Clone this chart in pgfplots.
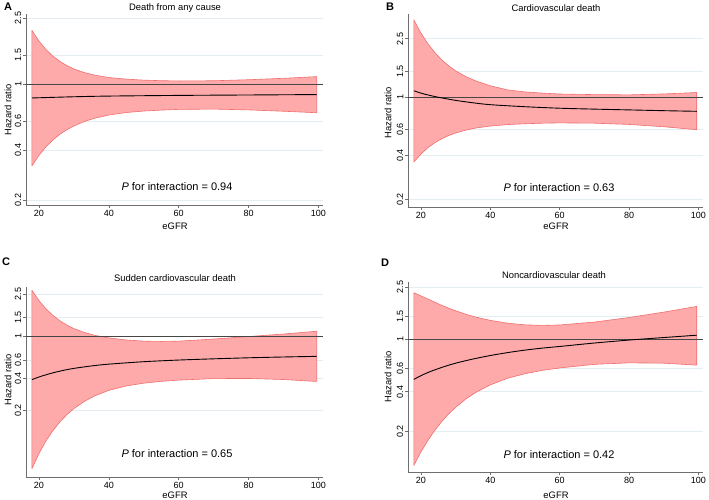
\documentclass[border=0pt]{standalone}
\usepackage{pgfplots}
\usepackage{pgfplotstable}
\pgfplotsset{compat=1.18}
\usepackage{fontspec}
\setmainfont{Liberation Sans}

\definecolor{bandfill}{RGB}{255,170,170}
\definecolor{bandedge}{RGB}{240,110,110}
\definecolor{axgray}{RGB}{110,110,110}
\definecolor{gridc}{RGB}{228,238,242}
\definecolor{refc}{RGB}{70,70,70}

% band polygons: upper limit for rising eGFR, then lower limit back down
\pgfplotstableread{
x y
18 2.111
20 1.820
22 1.619
24 1.476
26 1.372
28 1.294
30 1.236
33 1.175
36 1.133
40 1.097
45 1.073
50 1.058
55 1.050
60 1.046
70 1.049
80 1.064
90 1.085
99.5 1.111
99.5 0.673
90 0.687
80 0.700
70 0.708
60 0.705
55 0.698
50 0.689
45 0.675
40 0.652
36 0.624
33 0.596
30 0.560
28 0.532
26 0.499
24 0.461
22 0.419
20 0.372
18 0.322
}\bandA
\pgfplotstableread{
x hr
18 0.826
30 0.840
40 0.848
60 0.856
80 0.861
99.5 0.866
}\lineA

\pgfplotstableread{
x y
18 3.360
20 2.743
22 2.318
24 2.018
26 1.799
28 1.636
30 1.513
33 1.379
36 1.285
40 1.195
45 1.120
50 1.085
55 1.065
60 1.050
70 1.040
80 1.036
90 1.051
99.5 1.075
99.5 0.599
90 0.628
80 0.651
70 0.664
60 0.667
55 0.664
50 0.658
45 0.650
40 0.635
36 0.616
33 0.596
30 0.569
28 0.547
26 0.520
24 0.488
22 0.451
20 0.408
18 0.361
}\bandB
\pgfplotstableread{
x hr
18 1.104
20 1.065
22 1.035
25 0.998
30 0.950
35 0.915
40 0.888
50 0.860
60 0.840
70 0.828
80 0.818
90 0.808
99.5 0.800
}\lineB

\pgfplotstableread{
x y
18 2.718
20 2.177
22 1.818
24 1.575
26 1.402
28 1.276
30 1.184
33 1.087
36 1.021
40 0.966
45 0.923
50 0.900
55 0.894
60 0.900
70 0.942
80 0.995
90 1.051
99.5 1.116
99.5 0.375
90 0.391
80 0.400
70 0.399
60 0.386
55 0.376
50 0.361
45 0.340
40 0.309
36 0.2745
33 0.243
30 0.208
28 0.1823
26 0.1557
24 0.1287
22 0.1027
20 0.0782
18 0.0564
}\bandC
\pgfplotstableread{
x hr
18 0.390
20 0.413
22 0.433
24 0.452
27 0.477
30 0.498
35 0.525
40 0.546
50 0.576
60 0.597
70 0.613
80 0.627
90 0.638
99.5 0.647
}\lineC

\pgfplotstableread{
x y
18 2.270
20 2.149
22 2.034
24 1.925
26 1.822
28 1.733
30 1.657
33 1.553
36 1.477
40 1.398
45 1.330
50 1.293
55 1.281
60 1.290
70 1.357
80 1.470
90 1.616
99.5 1.786
99.5 0.638
90 0.660
80 0.664
70 0.647
60 0.607
55 0.582
50 0.549
45 0.507
40 0.451
36 0.398
33 0.353
30 0.304
28 0.271
26 0.237
24 0.203
22 0.170
20 0.139
18 0.110
}\bandD
\pgfplotstableread{
x hr
18 0.497
20 0.530
22 0.560
24 0.587
27 0.625
30 0.660
35 0.710
40 0.755
45 0.795
50 0.830
55 0.860
60 0.885
70 0.940
80 0.990
90 1.035
99.5 1.078
}\lineD

\pgfplotsset{
  mypanel/.style={
    scale only axis, anchor=south west,
    xmin=16.3, xmax=101.3,
    axis lines*=left,
    axis line style={draw=axgray, line width=0.7pt},
    tick align=outside, major tick length=3pt,
    tick style={draw=axgray, line width=0.6pt},
    xtick={20,40,60,80,100}, xticklabels={20,40,60,80,100},
    ytick={0.2,0.4,0.6,1,1.5,2.5}, yticklabels={0.2,0.4,0.6,1,1.5,2.5},
    yminorticks=false, xminorticks=false,
    ymajorgrids, grid style={draw=gridc, line width=0.6pt},
    yticklabel style={rotate=90, anchor=south, font=\fontsize{9}{10}\selectfont, inner sep=1.5pt},
    xticklabel style={font=\fontsize{9}{10}\selectfont, inner sep=2pt},
  },
}
\tikzset{
  mband/.style={fill=bandfill, draw=bandedge, line width=0.6pt, line join=round},
  mhr/.style={black, line width=0.9pt, smooth},
  mref/.style={draw=refc, line width=0.7pt},
}

\begin{document}
\begin{tikzpicture}
\path[use as bounding box] (0pt,0pt) rectangle (709pt,500pt);

% ---------------- A ----------------
\begin{axis}[ymode=log, mypanel, at={(26pt,295pt)}, width=297pt, height=191pt, ymin=0.187, ymax=2.65]
\addplot[mband] table[x=x, y=y] {\bandA} -- cycle;
\addplot[mref] coordinates {(16.3,1) (101.3,1)};
\addplot[mhr] table[x=x, y=hr] {\lineA};
\end{axis}

% ---------------- B ----------------
\begin{axis}[ymode=log, mypanel, at={(408pt,293pt)}, width=295pt, height=193pt, ymin=0.178, ymax=3.69]
\addplot[mband] table[x=x, y=y] {\bandB} -- cycle;
\addplot[mref] coordinates {(16.3,1) (101.3,1)};
\addplot[mhr] table[x=x, y=hr] {\lineB};
\end{axis}

% ---------------- C ----------------
\begin{axis}[ymode=log, mypanel, at={(26pt,23pt)}, width=297pt, height=190pt, ymin=0.047, ymax=2.92]
\addplot[mband] table[x=x, y=y] {\bandC} -- cycle;
\addplot[mref] coordinates {(16.3,1) (101.3,1)};
\addplot[mhr] table[x=x, y=hr] {\lineC};
\end{axis}

% ---------------- D ----------------
\begin{axis}[ymode=log, mypanel, at={(408pt,28pt)}, width=295pt, height=190pt, ymin=0.098, ymax=2.74]
\addplot[mband] table[x=x, y=y] {\bandD} -- cycle;
\addplot[mref] coordinates {(16.3,1) (101.3,1)};
\addplot[mhr] table[x=x, y=hr] {\lineD};
\end{axis}

% ---------------- texts ----------------
\tikzset{lbl/.style={font=\fontsize{9.4}{11}\selectfont, inner sep=0pt},
         ptxt/.style={font=\fontsize{11}{13}\selectfont, inner sep=0pt},
         letter/.style={font=\fontsize{11}{13}\selectfont\bfseries, inner sep=0pt}}

\node[letter] at (8pt,493pt) {A};
\node[lbl] at (175pt,492pt) {Death from any cause};
\node[ptxt] at (177pt,313pt) {\textit{P} for interaction = 0.94};
\node[lbl] at (175pt,274pt) {eGFR};
\node[lbl, rotate=90] at (8pt,390pt) {Hazard ratio};

\node[letter] at (390pt,493pt) {B};
\node[lbl] at (556pt,492pt) {Cardiovascular death};
\node[ptxt] at (559pt,312pt) {\textit{P} for interaction = 0.63};
\node[lbl] at (556pt,274pt) {eGFR};
\node[lbl, rotate=90] at (388pt,387pt) {Hazard ratio};

\node[letter] at (6pt,238pt) {C};
\node[lbl] at (175pt,222pt) {Sudden cardiovascular death};
\node[ptxt] at (177pt,46pt) {\textit{P} for interaction = 0.65};
\node[lbl] at (175pt,5pt) {eGFR};
\node[lbl, rotate=90] at (8pt,120pt) {Hazard ratio};

\node[letter] at (385pt,237pt) {D};
\node[lbl] at (554pt,225pt) {Noncardiovascular death};
\node[ptxt] at (559pt,45pt) {\textit{P} for interaction = 0.42};
\node[lbl] at (556pt,5pt) {eGFR};
\node[lbl, rotate=90] at (388pt,123pt) {Hazard ratio};
\end{tikzpicture}
\end{document}
